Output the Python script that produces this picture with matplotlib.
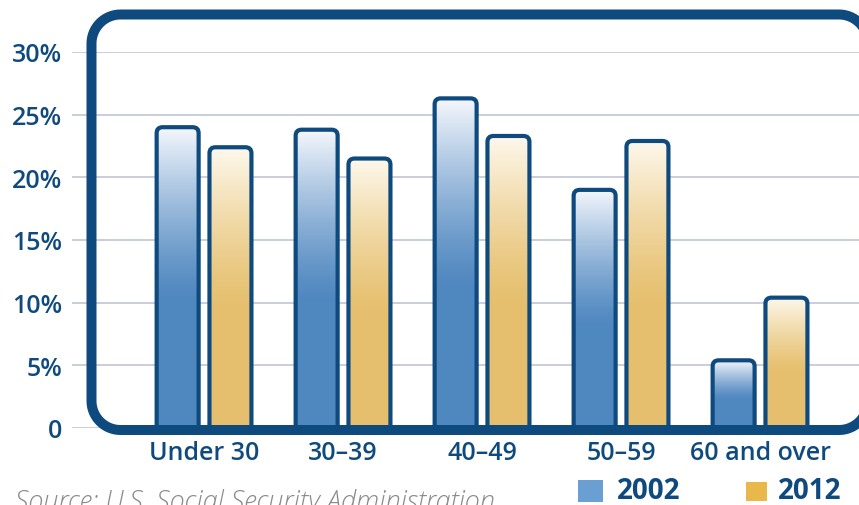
import numpy as np
import matplotlib.pyplot as plt
from matplotlib.patches import Rectangle, PathPatch
from matplotlib.path import Path
from matplotlib.transforms import IdentityTransform

groups = ["Under 30", "30–39", "40–49", "50–59", "60 and over"]
share_2002 = [24.0, 23.8, 26.3, 19.0, 5.4]
share_2012 = [22.4, 21.5, 23.3, 22.9, 10.4]
yticks = [0, 5, 10, 15, 20, 25, 30]
ytick_labels = ["0", "5%", "10%", "15%", "20%", "25%", "30%"]
years = ["2002", "2012"]

navy = "#0f4a7e"
bar_cols = [(0.31, 0.53, 0.75), (0.90, 0.75, 0.43)]
light_cols = [(0.96, 0.97, 0.99), (0.995, 0.975, 0.93)]
legend_cols = ["#6a9fd3", "#e8b94a"]

plt.rcParams['font.family'] = ['Open Sans', 'DejaVu Sans']

W, H = 859, 506
fig = plt.figure(figsize=(W / 100, H / 100), dpi=100)
ax = fig.add_axes([72 / W, (H - 429) / H, 1 - 72 / W, 376 / H])

x = np.arange(len(groups))
off = 0.19
bw = 0.302
# pixel -> data scale, used only to round the bar corners
rx = 6 / 139
ry = 6 * 30 / 376


def top_rounded(x0, x1, top):
    verts = [(x0, 0), (x0, top - ry), (x0, top), (x0 + rx, top),
             (x1 - rx, top), (x1, top), (x1, top - ry), (x1, 0), (x0, 0)]
    codes = [Path.MOVETO, Path.LINETO, Path.CURVE3, Path.CURVE3,
             Path.LINETO, Path.CURVE3, Path.CURVE3, Path.LINETO, Path.CLOSEPOLY]
    return Path(verts, codes)


def rounded_rect(x0, y0, x1, y1, r, n=24):
    # counter-clockwise outline of a rounded rectangle (display pixels)
    pts = []
    for cx, cy, a0 in [(x1 - r, y0 + r, -90), (x1 - r, y1 - r, 0),
                       (x0 + r, y1 - r, 90), (x0 + r, y0 + r, 180)]:
        a = np.radians(np.linspace(a0, a0 + 90, n))
        pts += list(zip(cx + r * np.cos(a), cy + r * np.sin(a)))
    return pts


t = np.linspace(0, 1, 256)
frac = np.clip((t - 0.42) / 0.58, 0, 1) ** 1.3

for k, vals in enumerate([share_2002, share_2012]):
    base = np.array(bar_cols[k])
    light = np.array(light_cols[k])
    grad = base[None, :] * (1 - frac[:, None]) + light[None, :] * frac[:, None]
    grad = grad[:, None, :]
    for i, v in enumerate(vals):
        cx = x[i] + (off if k else -off)
        x0, x1 = cx - bw / 2, cx + bw / 2
        p = PathPatch(top_rounded(x0, x1, v), facecolor='none', edgecolor=navy,
                      lw=3, zorder=4)
        ax.add_patch(p)
        im = ax.imshow(grad, extent=[x0, x1, 0, v], origin='lower', aspect='auto',
                       zorder=3, interpolation='bilinear')
        im.set_clip_path(p)

ax.set_xlim(-0.95, 4.712)
ax.set_ylim(0, 30)
ax.set_yticks(yticks, ytick_labels)
ax.set_xticks(x, groups)
ax.grid(axis='y', color='#c6c9da', lw=1.3, zorder=0)
ax.set_axisbelow(True)
for s in ax.spines.values():
    s.set_visible(False)
ax.tick_params(length=0, colors=navy, labelsize=18)
ax.tick_params(axis='y', pad=7)
ax.tick_params(axis='x', pad=9)
for lab in ax.get_xticklabels() + ax.get_yticklabels():
    lab.set_fontweight('semibold')

# rounded frame as a filled ring, so the part past the right edge stays hidden
outer = rounded_rect(86.5, H - 436, 873, H - 10.5, 34)
inner = rounded_rect(96.5, H - 426, 863, H - 20.5, 24)[::-1]
verts = outer + [outer[0]] + inner + [inner[0]]
codes = ([Path.MOVETO] + [Path.LINETO] * (len(outer) - 1) + [Path.CLOSEPOLY]) * 2
frame = PathPatch(Path(verts, codes), facecolor=navy, edgecolor='none',
                  transform=IdentityTransform(), zorder=5)
fig.add_artist(frame)

# legend
fig.add_artist(Rectangle((578 / W, 1 - 503 / H), 25 / W, 22 / H,
                         facecolor=legend_cols[0], transform=fig.transFigure))
fig.add_artist(Rectangle((746 / W, 1 - 502 / H), 21 / W, 19 / H,
                         facecolor=legend_cols[1], transform=fig.transFigure))
fig.text(617 / W, 1 - 492 / H, years[0], color=navy, fontsize=20,
         fontweight='bold', va='center')
fig.text(778 / W, 1 - 492 / H, years[1], color=navy, fontsize=20,
         fontweight='bold', va='center')

fig.text(15 / W, -4 / H, "Source: U.S. Social Security Administration.",
         color='#8a8a8a', fontsize=19.5, style='italic', fontweight='light',
         va='baseline')

fig.savefig("out.png", dpi=100)
